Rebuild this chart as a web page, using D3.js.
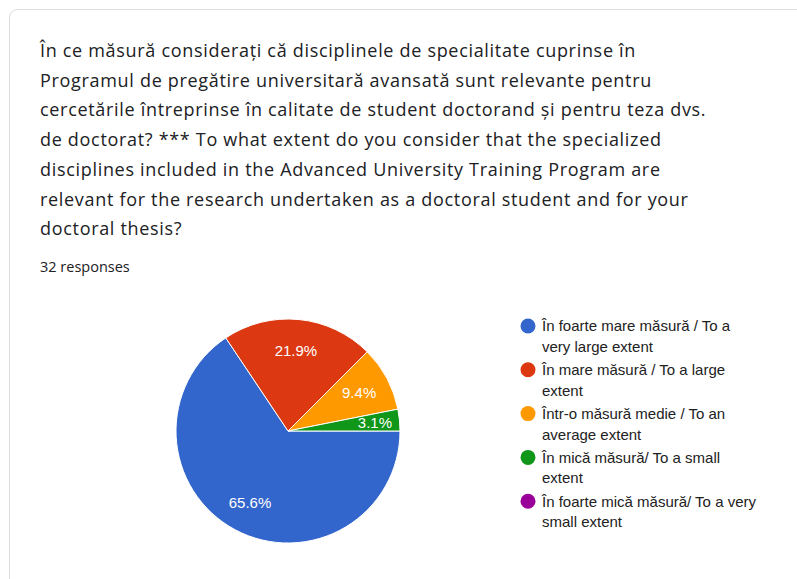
<!DOCTYPE html>
<html>
<head>
<meta charset="utf-8">
<script src="https://cdn.jsdelivr.net/npm/d3@7"></script>
<style>
  body { margin: 0; background: #fff; }
  svg { display: block; }
</style>
</head>
<body>
<script>
var titleLines = [
  "În ce măsură considerați că disciplinele de specialitate cuprinse în",
  "Programul de pregătire universitară avansată sunt relevante pentru",
  "cercetările întreprinse în calitate de student doctorand și pentru teza dvs.",
  "de doctorat? *** To what extent do you consider that the specialized",
  "disciplines included in the Advanced University Training Program are",
  "relevant for the research undertaken as a doctoral student and for your",
  "doctoral thesis?"
];
var responsesLabel = "32 responses";

var categories = [
  ["În foarte mare măsură / To a", "very large extent"],
  ["În mare măsură / To a large", "extent"],
  ["Într-o măsură medie / To an", "average extent"],
  ["În mică măsură/ To a small", "extent"],
  ["În foarte mică măsură/ To a very", "small extent"]
];
var counts = [21, 7, 3, 1, 0];
var colors = ["#3366cc", "#dc3912", "#ff9900", "#109618", "#990099"];

var w = 797, h = 579;
var svg = d3.select("body").append("svg")
  .attr("width", w)
  .attr("height", h);

// card
svg.append("rect")
  .attr("x", 9.5).attr("y", 9.5)
  .attr("width", 820).attr("height", 620)
  .attr("rx", 8)
  .attr("fill", "#fff")
  .attr("stroke", "#dadce0");

// title
var title = svg.append("g").selectAll("text")
  .data(titleLines)
  .enter().append("text")
  .attr("x", 40)
  .attr("y", function(d, i){ return 57 + i * 29.7; })
  .style("font-family", "'Open Sans', sans-serif")
  .style("font-size", "18px")
  .style("fill", "#202124")
  .text(function(d){ return d; });

// first line should span ~596px like the original (Google Sans is wider)
var firstLen = title.node().getComputedTextLength();
var spacing = (596 - firstLen) / titleLines[0].length;
title.style("letter-spacing", spacing + "px");

svg.append("text")
  .attr("x", 40).attr("y", 272)
  .style("font-family", "'Open Sans', sans-serif")
  .style("font-size", "14.5px")
  .style("fill", "#202124")
  .text(responsesLabel);

// pie
var cx = 288, cy = 431, r = 112;
var total = d3.sum(counts);
var pie = d3.pie()
  .sort(null)
  .startAngle(Math.PI / 2)
  .endAngle(Math.PI / 2 + 2 * Math.PI);
var arcs = pie(counts);
var arc = d3.arc().innerRadius(0).outerRadius(r);

var chart = svg.append("g")
  .attr("transform", "translate(" + cx + "," + cy + ")");

chart.selectAll(".slice")
  .data(arcs.filter(function(d){ return d.value > 0; }))
  .enter().append("path")
  .classed("slice", true)
  .attr("d", arc)
  .attr("fill", function(d){ return colors[d.index]; })
  .attr("stroke", "#fff")
  .attr("stroke-width", 1);

chart.selectAll(".slice-label")
  .data(arcs.filter(function(d){ return d.value > 0; }))
  .enter().append("text")
  .classed("slice-label", true)
  .attr("transform", function(d){
    var span = d.endAngle - d.startAngle;
    var lr = span < 0.3 ? r * 0.78 : r * 0.72;
    var a = (d.startAngle + d.endAngle) / 2;
    return "translate(" + (Math.sin(a) * lr) + "," + (-Math.cos(a) * lr) + ")";
  })
  .attr("text-anchor", "middle")
  .attr("dy", "0.36em")
  .style("font-family", "Arial, 'Liberation Sans', sans-serif")
  .style("font-size", "15px")
  .style("fill", "#fff")
  .text(function(d){ return (d.value / total * 100).toFixed(1) + "%"; });

// legend
var legend = svg.append("g")
  .attr("transform", "translate(528,326)");

var item = legend.selectAll(".item")
  .data(categories)
  .enter().append("g")
  .classed("item", true)
  .attr("transform", function(d, i){ return "translate(0," + (i * 43.8) + ")"; });

item.append("circle")
  .attr("r", 7.5)
  .attr("fill", function(d, i){ return colors[i]; });

item.selectAll("text")
  .data(function(d){ return d; })
  .enter().append("text")
  .attr("x", 14)
  .attr("y", function(d, i){ return i * 20.7; })
  .attr("dy", "0.36em")
  .style("font-family", "Arial, 'Liberation Sans', sans-serif")
  .style("font-size", "15px")
  .style("fill", "#222")
  .text(function(d){ return d; });
</script>
</body>
</html>
